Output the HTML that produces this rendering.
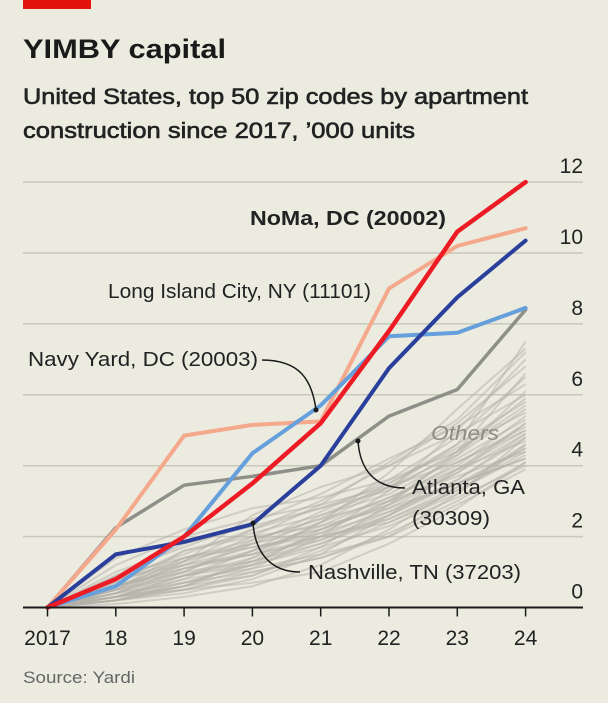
<!DOCTYPE html>
<html><head><meta charset="utf-8"><style>
html,body{margin:0;padding:0;background:#ecebe0;}
svg{display:block;font-family:"Liberation Sans",sans-serif;}
</style></head><body>
<svg id="chart" width="608" height="703" viewBox="0 0 608 703" xmlns="http://www.w3.org/2000/svg">
<rect x="0" y="0" width="608" height="703" fill="#ecebe0"/>
<rect x="23" y="0" width="68" height="9" fill="#e3120b"/>
<text x="23" y="58" font-size="27" font-weight="bold" fill="#1a1a1a" textLength="203" lengthAdjust="spacingAndGlyphs">YIMBY capital</text>
<text x="23" y="104" font-size="22" fill="#222" stroke="#222" stroke-width="0.6" textLength="505" lengthAdjust="spacingAndGlyphs">United States, top 50 zip codes by apartment</text>
<text x="23" y="138" font-size="22" fill="#222" stroke="#222" stroke-width="0.6" textLength="392" lengthAdjust="spacingAndGlyphs">construction since 2017, ’000 units</text>
<g id="grid"></g>
<g id="others"></g>
<g id="series"></g>
<g id="axis"></g>
<g id="notes"></g>
<text x="23" y="683" font-size="17" fill="#666" textLength="112" lengthAdjust="spacingAndGlyphs">Source: Yardi</text>
</svg>
<script>
const years = ["2017","18","19","20","21","22","23","24"];
const yTicks = [0,2,4,6,8,10,12];
const noma = [0,0.8,2.0,3.5,5.2,7.8,10.6,12.0];
const lic = [0,2.2,4.85,5.15,5.25,9.0,10.2,10.7];
const nashville = [0,1.5,1.85,2.35,4.0,6.75,8.75,10.35];
const navyYard = [0,0.6,2.0,4.35,5.7,7.65,7.75,8.45];
const atlanta = [0,2.25,3.45,3.7,4.0,5.4,6.15,8.4];
const others = [
[0,0.3,0.9,1.6,2.6,3.4,4.6,7.5],[0,0.5,1.2,2.0,2.9,4.1,5.3,7.2],[0,0.2,0.6,1.1,2.0,3.3,5.0,7.0],
[0,0.8,1.5,2.2,3.0,4.0,5.2,6.8],[0,0.4,1.0,1.8,2.7,3.6,4.8,6.5],[0,1.0,1.7,2.4,3.2,4.2,5.1,6.3],
[0,0.3,0.7,1.2,2.2,3.0,4.3,6.1],[0,0.6,1.3,2.6,3.4,4.0,4.9,6.0],[0,0.2,0.5,0.9,1.7,2.9,4.4,5.9],
[0,0.7,1.4,1.9,2.5,3.5,4.6,5.8],[0,0.4,1.1,1.5,2.4,3.4,4.3,5.6],[0,0.9,1.8,2.3,2.8,3.5,4.5,5.5],
[0,0.3,0.8,1.6,2.3,3.1,4.0,5.4],[0,0.5,1.6,2.1,2.6,3.2,4.2,5.3],[0,0.2,0.4,0.8,1.5,2.6,3.9,5.2],
[0,0.6,1.2,1.7,2.1,3.0,4.1,5.1],[0,1.2,2.0,2.5,2.9,3.4,4.1,5.0],[0,0.3,0.9,1.4,2.0,2.8,3.8,4.9],
[0,0.5,1.0,1.3,1.9,2.7,3.6,4.8],[0,0.8,1.3,1.8,2.4,3.1,3.9,4.7],[0,0.1,0.3,0.6,1.2,2.2,3.4,4.6],
[0,0.4,0.7,1.2,1.8,2.6,3.5,4.5],[0,0.6,1.1,1.5,2.0,2.5,3.3,4.4],[0,0.3,0.6,0.9,1.6,2.4,3.3,4.3],
[0,0.7,1.6,2.0,2.3,2.8,3.5,4.2],[0,0.2,0.5,1.0,1.4,2.1,3.0,4.1],[0,0.5,0.9,1.2,1.7,2.3,3.1,4.0],
[0,0.3,0.8,1.1,1.5,2.0,2.9,3.9],[0,0.9,1.4,1.7,2.0,2.4,3.2,4.6],[0,0.4,1.3,2.2,2.8,3.3,4.4,6.6],
[0,0.2,0.6,1.4,2.4,3.8,5.6,7.3],[0,0.6,1.0,1.9,2.5,3.0,3.7,4.4],[0,1.4,2.2,2.8,3.1,3.6,4.4,5.7],
[0,0.3,0.5,0.7,1.0,1.8,2.8,4.1],[0,0.5,1.4,1.8,2.2,2.9,3.9,5.0],[0,0.4,0.9,1.3,1.8,2.5,3.4,4.5],
[0,0.6,1.1,1.6,2.2,2.9,3.8,5.2],[0,0.2,0.7,1.0,1.4,2.0,3.2,4.8],[0,0.8,1.2,1.5,1.9,2.6,3.6,4.9],
[0,0.3,0.6,1.3,2.1,2.7,3.5,4.2]
];
const NS="http://www.w3.org/2000/svg";
const x0=47.5, xStep=68.3, yBase=607.5, yUnit=35.45;
function xs(i){return x0+i*xStep;}
function ys(v){return yBase-v*yUnit;}
function mk(tag,attrs,parent){const e=document.createElementNS(NS,tag);for(const k in attrs)e.setAttribute(k,attrs[k]);parent.appendChild(e);return e;}
const grid=document.getElementById('grid');
yTicks.forEach(t=>{
  if(t>0){const l=mk('line',{x1:23,x2:583,y1:ys(t),y2:ys(t),stroke:'#c9c8bd','stroke-width':1.5},grid);
  
  }
  const tx=mk('text',{x:583,y:ys(t)-9,'text-anchor':'end','font-size':21,fill:'#222'},grid);
  tx.textContent=t;
  
  
});
function pts(a){return a.map((v,i)=>xs(i).toFixed(1)+','+ys(v).toFixed(1)).join(' ');}
const og=document.getElementById('others');
others.forEach((s,k)=>{
  const p=mk('polyline',{points:pts(s),fill:'none',stroke:'#b3b2a8','stroke-width':2,'stroke-opacity':0.5,'stroke-linejoin':'round'},og);
  
  
});
const sg=document.getElementById('series');
[[atlanta,'#8e8f88',3.5,'atlanta-line'],[lic,'#f5a98c',4,'long-island-city-line'],[navyYard,'#659fdc',4,'navy-yard-line'],[nashville,'#2a3f9b',4,'nashville-line'],[noma,'#ec1b24',4.5,'noma-line']].forEach(d=>{
  const p=mk('polyline',{points:pts(d[0]),fill:'none',stroke:d[1],'stroke-width':d[2],'stroke-linejoin':'round','stroke-linecap':'round'},sg);
  
  
});
const ax=document.getElementById('axis');
const base=mk('line',{x1:23,x2:583,y1:yBase,y2:yBase,stroke:'#1a1a1a','stroke-width':2},ax);


years.forEach((y,i)=>{
  const t=mk('line',{x1:xs(i),x2:xs(i),y1:yBase,y2:yBase+9,stroke:'#1a1a1a','stroke-width':1.5},ax);
  
  
  const tx=mk('text',{x:xs(i),y:645,'text-anchor':'middle','font-size':21,fill:'#222'},ax);
  tx.textContent=y;
  
  
});
const ng=document.getElementById('notes');
function label(x,y,txt,name,extra){const t=mk('text',Object.assign({x:x,y:y,'font-size':20,fill:'#222'},extra||{}),ng);t.textContent=txt;
  
  return t;}
label(250,225,'NoMa, DC (20002)','noma-label',{'font-weight':'bold',textLength:196,lengthAdjust:'spacingAndGlyphs'});
label(108,298,'Long Island City, NY (11101)','lic-label',{textLength:263,lengthAdjust:'spacingAndGlyphs'});
label(28,366,'Navy Yard, DC (20003)','navy-yard-label',{textLength:230,lengthAdjust:'spacingAndGlyphs'});
label(431,440,'Others','others-label',{'font-style':'italic',fill:'#8e8d85',textLength:68,lengthAdjust:'spacingAndGlyphs'});
label(412,494,'Atlanta, GA','atlanta-label',{textLength:113,lengthAdjust:'spacingAndGlyphs'});
label(412,525,'(30309)','atlanta-zip-label',{textLength:78,lengthAdjust:'spacingAndGlyphs'});
label(308,579,'Nashville, TN (37203)','nashville-label',{textLength:213,lengthAdjust:'spacingAndGlyphs'});
[['M262,360 C300,360 312,380 316,410',316,410,'navy-yard-leader'],
 ['M405,488 C375,488 360,470 358,441',358,441,'atlanta-leader'],
 ['M300,572 C270,572 255,552 253,523',253,523,'nashville-leader']].forEach(d=>{
  const p=mk('path',{d:d[0],fill:'none',stroke:'#1a1a1a','stroke-width':1.5},ng);
  
  
  const c=mk('circle',{cx:d[1],cy:d[2],r:2.5,fill:'#1a1a1a'},ng);
  
  
});
</script>
</body></html>
